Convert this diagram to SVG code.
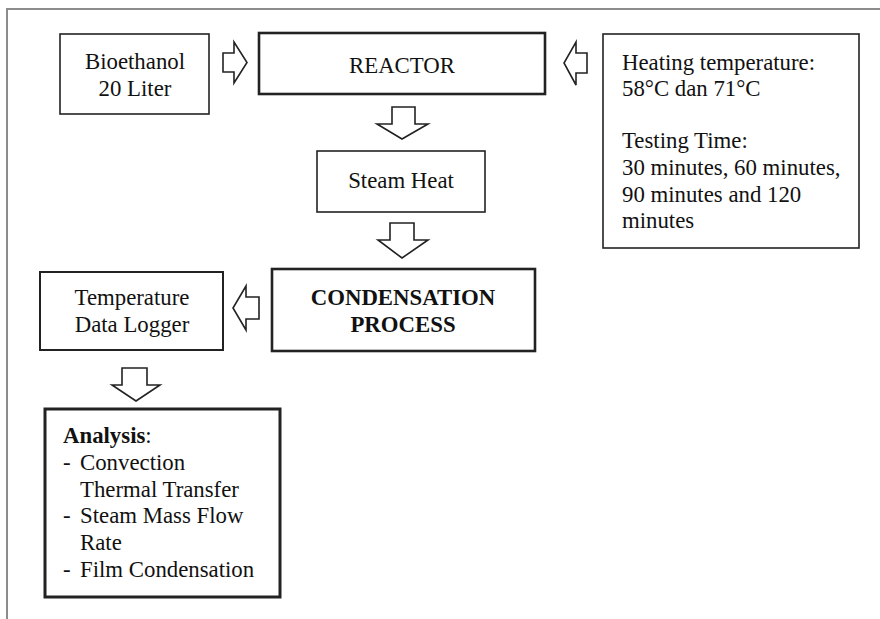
<svg xmlns="http://www.w3.org/2000/svg" width="880" height="619" viewBox="0 0 880 619">
<style>
text{font-family:"Liberation Serif","Times New Roman",serif;font-size:22.8px;fill:#111}
.c{text-anchor:middle}
.b{font-weight:bold}
.box{fill:#fff;stroke:#222;stroke-width:1.6}
.thick{stroke-width:2.6}
.arr{fill:#fff;stroke:#222;stroke-width:1.6;stroke-linejoin:miter}
.frame{fill:none;stroke:#8c8c8c;stroke-width:2}
</style>
<rect width="880" height="619" fill="#fff"/>
<path class="frame" d="M881 9 H7 V619"/>
<g id="bioethanol">
<rect class="box" x="60" y="34" width="149" height="80"/>
<text class="c" x="135" y="69">Bioethanol</text>
<text class="c" x="135" y="96">20 Liter</text>
</g>
<g id="reactor">
<rect class="box thick" x="259" y="33" width="286" height="61"/>
<text class="c" x="402" y="73">REACTOR</text>
</g>
<g id="heating">
<rect class="box" x="603" y="34" width="256" height="214"/>
<text x="622" y="70">Heating temperature:</text>
<text x="622" y="96">58°C dan 71°C</text>
<text x="622" y="148">Testing Time:</text>
<text x="622" y="175">30 minutes, 60 minutes,</text>
<text x="622" y="202">90 minutes and 120</text>
<text x="622" y="228">minutes</text>
</g>
<g id="steam">
<rect class="box" x="317" y="151" width="168" height="61"/>
<text class="c" x="401" y="188">Steam Heat</text>
</g>
<g id="condensation">
<rect class="box thick" x="272" y="269" width="263" height="82"/>
<text class="c b" x="403" y="305">CONDENSATION</text>
<text class="c b" x="403" y="332">PROCESS</text>
</g>
<g id="logger">
<rect class="box" x="40" y="272" width="183" height="78" style="stroke-width:2"/>
<text class="c" x="132" y="305">Temperature</text>
<text class="c" x="132" y="332">Data Logger</text>
</g>
<g id="analysis">
<rect class="box" x="45" y="409" width="235" height="188" style="stroke-width:3"/>
<text x="63" y="443"><tspan class="b">Analysis</tspan>:</text>
<text x="63" y="470">-</text><text x="80" y="470">Convection</text>
<text x="80" y="497">Thermal Transfer</text>
<text x="63" y="523">-</text><text x="80" y="523">Steam Mass Flow</text>
<text x="80" y="550">Rate</text>
<text x="63" y="577">-</text><text x="80" y="577">Film Condensation</text>
</g>
<g id="connectors">
<path class="arr" d="M223 53 H234 V42 L247 62.5 L234 83 V72 H223 Z"/>
<path class="arr" d="M587 53 H576 V42 L564 63 L576 85 V73 H587 Z"/>
<path class="arr" d="M392 107 H415 V124 H428 L402 139 L377 124 H392 Z"/>
<path class="arr" d="M390 223 H414 V240 H428 L402 258 L378 240 H390 Z"/>
<path class="arr" d="M259 297 H246 V286 L233 308 L246 330 V319 H259 Z"/>
<path class="arr" d="M122 368 H147 V385 H160 L136 401 L112 385 H122 Z"/>
</g>
</svg>
